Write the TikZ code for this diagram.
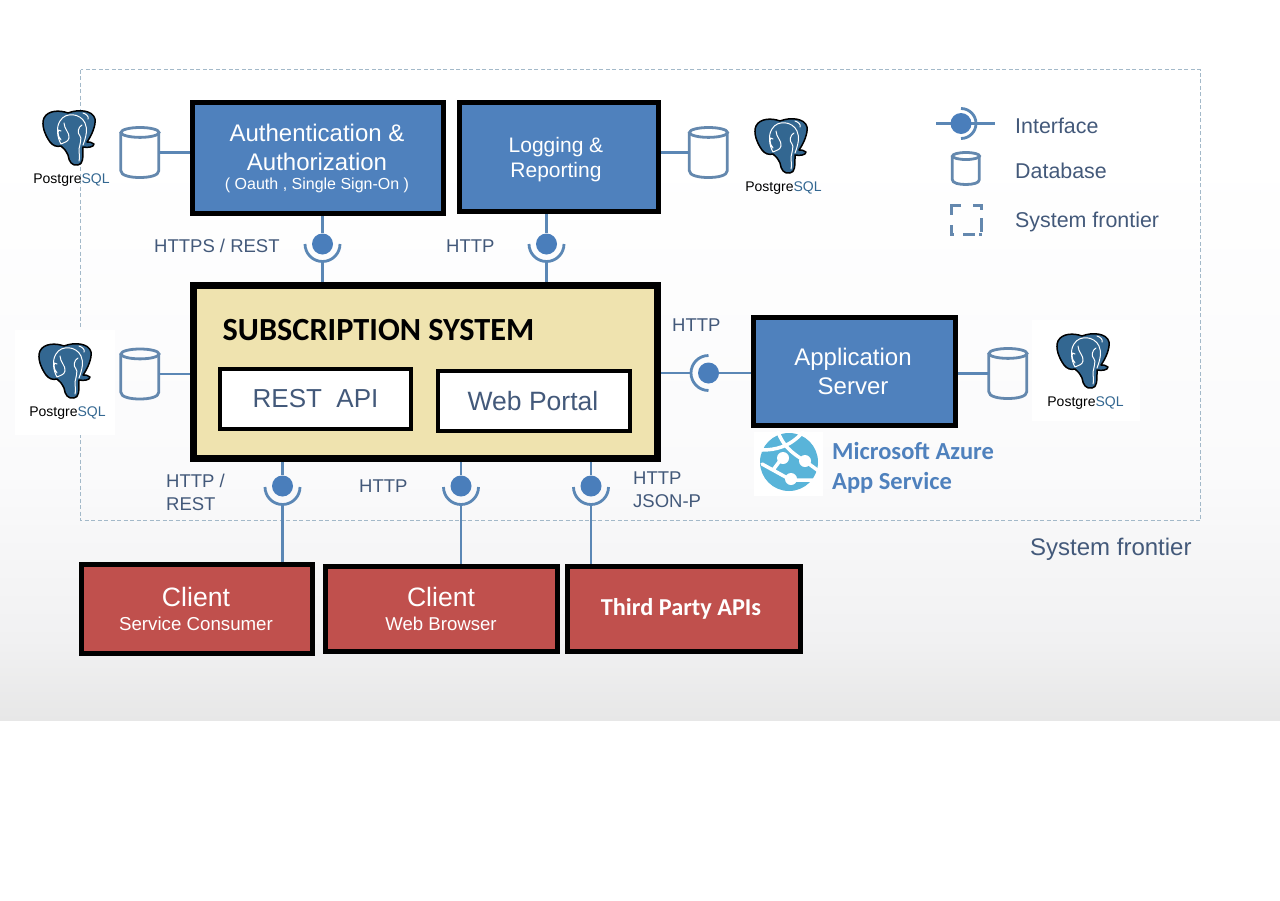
\documentclass[tikz,border=0pt]{standalone}
\usepackage{fontspec}
\setmainfont{Liberation Sans}
\newfontfamily\calibrifont{Carlito}
\usepackage{xcolor}

\definecolor{boxblue}{HTML}{4F81BD}
\definecolor{boxred}{HTML}{C0504D}
\definecolor{boxsand}{HTML}{EFE3AF}
\definecolor{linkblue}{HTML}{5B87B5}
\definecolor{dotblue}{HTML}{4A7EBB}
\definecolor{dbblue}{HTML}{6488AE}
\definecolor{textblue}{HTML}{43597A}
\definecolor{pgblue}{HTML}{336791}
\definecolor{azureblue}{HTML}{59B4D9}
\definecolor{frontierblue}{HTML}{A3B9C9}
\definecolor{bgone}{HTML}{FAFAFB}
\definecolor{bgtwo}{HTML}{F1F1F2}
\definecolor{bgthree}{HTML}{E7E7E7}

\tikzset{
  bigbox/.style={draw=black, line width=5pt, align=center, text=white, inner sep=0pt},
  bluebox/.style={bigbox, fill=boxblue},
  redbox/.style={bigbox, fill=boxred},
  innerbox/.style={draw=black, line width=4pt, fill=white, text=textblue, inner sep=0pt},
  link/.style={color=linkblue, line width=2.8pt},
  ifdot/.style={circle, fill=dotblue, minimum size=21pt, inner sep=0pt},
  dbase/.style={rectangle, minimum height=52pt, minimum width=40pt, inner sep=0pt},
  caption/.style={text=textblue, align=left, font=\fontsize{18.5}{23}\selectfont, inner sep=0pt},
  legendtext/.style={text=textblue, anchor=west, font=\fontsize{21.4}{24}\selectfont, inner sep=0pt},
  pglabel/.style={inner sep=0pt, font=\fontsize{14}{14}\selectfont},
}

% database drum: name, x, y, half width, half height
\newcommand{\dbdrum}[5]{
  \node[dbase, minimum width=2*#4 pt, minimum height=2*#5 pt] (#1) at (#2,#3) {};
  \draw[color=dbblue, line width=2.8pt] (#1.center) ++(0,-#5+0.26*#4)
    ellipse[x radius=#4 pt, y radius=0.26*#4 pt];
  \draw[color=dbblue, line width=2.8pt, line join=round]
    (#1.west) ++(0,-#5+0.26*#4) -- ++(0,2*#5-0.26*#4-0.36*#4)
    .. controls +(0,0.26*#4) and +(-0.5*#4,0) .. ++(#4,0.36*#4)
    .. controls +(0.5*#4,0) and +(0,0.26*#4) .. ++(#4,-0.36*#4)
    -- ++(0,-2*#5+0.26*#4+0.36*#4);
}

% elephant logo, top left corner at (#2,#3)
\newcommand{\pgelephant}[3]{
  \begin{scope}[shift={(#2,#3)}]
    \filldraw[fill=pgblue, draw=black, line width=1.5pt, line join=round]
      (26,2) .. controls (18,-1) and (6,-1) .. (2,7)
      .. controls (-1,14) and (3,24) .. (8,31)
      .. controls (11,35) and (15,36) .. (19,35)
      .. controls (22,37) and (24,40) .. (26,44)
      .. controls (27,51) and (30,55) .. (36,54)
      .. controls (41,53) and (41,48) .. (41,36)
      .. controls (46,37) and (52,36) .. (52,33)
      .. controls (50,31) and (47,31) .. (45,31)
      .. controls (50,24) and (54,14) .. (53,8)
      .. controls (51,-1) and (36,-2) .. (26,2) -- cycle;
    \draw[color=white, line width=1pt, line cap=round]
      (19,33) .. controls (15,26) and (14,16) .. (18,10) .. controls (21,5) and (26,3) .. (32,4)
      (19,20) .. controls (15,16) and (15,25) .. (19,29)
      (19,33) .. controls (23,31) and (26,31) .. (27,27) .. controls (28,22) and (22,18) .. (22,12)
      (41,34) .. controls (44,26) and (46,18) .. (43,12) .. controls (41,7) and (35,4) .. (32,4)
      (40,14) .. controls (36,16) and (35,22) .. (38,25) .. controls (40,27) and (38,33) .. (37,38)
      .. controls (37,42) and (38,47) .. (37,50)
      (46,8) .. controls (47,5) and (44,3) .. (41,2);
    \node[pglabel] (#1) at (29.5,69.5) {Post{\color{black}gre}{\color{pgblue}SQL}};
  \end{scope}
}

\begin{document}
\begin{tikzpicture}[x=1pt, y=-1pt]
\useasboundingbox (0,0) rectangle (1280,900);

% page background
\fill[color=white] (0,0) rectangle (1280,900);
\shade[top color=white, bottom color=bgone] (0,150) rectangle (1280,480);
\shade[top color=bgone, bottom color=bgtwo] (0,480) rectangle (1280,640);
\shade[top color=bgtwo, bottom color=bgthree] (0,640) rectangle (1280,720);

% system frontier
\draw[color=frontierblue, line width=0.8pt, dash pattern=on 4pt off 2.5pt] (80.5,69.5) rectangle (1200.5,520.5);

% white patches behind two of the logos
\fill[color=white] (15,330) rectangle (115,435);
\fill[color=white] (1032,320) rectangle (1140,421);
\fill[color=white] (754,432) rectangle (823,496);

% boxes
\node[bluebox, minimum width=251pt, minimum height=111pt] (auth) at (318,158) {};
\node[bluebox, minimum width=199pt, minimum height=109pt] (logging) at (559,157) {};
\node[draw=black, line width=7pt, fill=boxsand, minimum width=464pt, minimum height=173pt, inner sep=0pt] (subscr) at (425.5,372) {};
\node[innerbox, minimum width=191pt, minimum height=60pt, font=\fontsize{26}{30}\selectfont] (restapi) at (315.5,399) {REST\ \ API};
\node[innerbox, minimum width=192pt, minimum height=60pt, font=\fontsize{26.5}{30}\selectfont] (webportal) at (534,401) {\hspace{-2pt}Web Portal};
\node[bluebox, minimum width=202pt, minimum height=108pt] (appserver) at (854.5,371.5) {};
\node[redbox, minimum width=231pt, minimum height=89pt] (clientsc) at (197,609) {};
\node[redbox, minimum width=232pt, minimum height=85pt] (clientwb) at (441.5,609) {};
\node[redbox, minimum width=233pt, minimum height=85pt] (thirdparty) at (684,609) {};

% box texts
\node[text=white, inner sep=0pt, font=\fontsize{24}{29}\selectfont, align=center] (authtxt) at (317,147) {Authentication \&\\Authorization};
\node[text=white, inner sep=0pt, font=\fontsize{16}{20}\selectfont] (authsub) at (317,185) {( Oauth , Single Sign-On )};
\node[text=white, inner sep=0pt, font=\fontsize{21}{25}\selectfont, align=center] (logtxt) at (556,160) {Logging \&\\Reporting};
\node[text=white, inner sep=0pt, font=\fontsize{24}{29}\selectfont, align=center] (apptxt) at (853,371) {Application\\Server};
\node[text=black, inner sep=0pt, font=\calibrifont\bfseries\fontsize{32.3}{36}\selectfont] (subtxt) at (378.5,330) {SUBSCRIPTION SYSTEM};
\node[text=white, inner sep=0pt, font=\fontsize{26.6}{30}\selectfont] (cl1) at (196,597) {Client};
\node[text=white, inner sep=0pt, font=\fontsize{18.7}{22}\selectfont] (cl1sub) at (196,624) {Service Consumer};
\node[text=white, inner sep=0pt, font=\fontsize{26.6}{30}\selectfont] (cl2) at (441,597) {Client};
\node[text=white, inner sep=0pt, font=\fontsize{18.6}{22}\selectfont] (cl2sub) at (441,624) {Web Browser};
\node[text=white, inner sep=0pt, font=\calibrifont\bfseries\fontsize{24.3}{28}\selectfont] (thirdtxt) at (681,609) {Third Party APIs};

% interfaces
\coordinate (tipauth) at (322.5,261.5);
\coordinate (tiplog) at (546.5,261.5);
\coordinate (tipapp) at (691,373);
\coordinate (tipcl1) at (282.5,504.5);
\coordinate (tipcl2) at (461,504.5);
\coordinate (tipthird) at (591,504.5);

\foreach \tipname in {tipauth,tiplog,tipcl1,tipcl2,tipthird}
  \draw[link] (\tipname) ++(-17.5,-17.5) arc[start angle=180, end angle=360, radius=17.5pt];
\draw[link] (tipapp) ++(17.5,-17.5) arc[start angle=90, end angle=270, radius=17.5pt];

\node[ifdot] (ifauth) at (322.5,244) {};
\node[ifdot] (iflog) at (546.5,244) {};
\node[ifdot] (ifapp) at (708.5,373) {};
\node[ifdot] (ifcl1) at (282.5,486) {};
\node[ifdot] (ifcl2) at (461,486) {};
\node[ifdot] (ifthird) at (591,486) {};

\draw[link] (auth.south -| ifauth) -- (ifauth);
\draw[link] (tipauth) -- (subscr.north -| tipauth);
\draw[link] (logging.south -| iflog) -- (iflog);
\draw[link] (tiplog) -- (subscr.north -| tiplog);
\draw[link] (subscr.south -| ifcl1) -- (ifcl1);
\draw[link] (tipcl1) -- (clientsc.north -| tipcl1);
\draw[link] (subscr.south -| ifcl2) -- (ifcl2);
\draw[link] (tipcl2) -- (clientwb.north -| tipcl2);
\draw[link] (subscr.south -| ifthird) -- (ifthird);
\draw[link] (tipthird) -- (thirdparty.north -| tipthird);
\draw[link] (subscr.east |- tipapp) -- (tipapp);
\draw[link] (ifapp) -- (appserver.west |- ifapp);

% databases
\dbdrum{dbauth}{140}{152.5}{19}{25}
\dbdrum{dblog}{708.5}{152.5}{19}{25}
\dbdrum{dbsub}{140}{374}{19}{25}
\dbdrum{dbapp}{1008}{373.5}{19}{25}
\draw[link] (dbauth.east) -- (dbauth.east -| auth.west);
\draw[link] (dblog.west) -- (dblog.west -| logging.east);
\draw[link] (dbsub.east) -- (dbsub.east -| subscr.west);
\draw[link] (dbapp.west) -- (dbapp.west -| appserver.east);

% logos
\pgelephant{pgauth}{42}{111}
\pgelephant{pglog}{754}{119}
\pgelephant{pgsub}{38}{344}
\pgelephant{pgapp}{1056}{334}

% azure icon
\fill[color=azureblue] (789,462) circle (29pt);
\draw[color=white, line width=3.5pt, line cap=round]
  (762,450) .. controls (775,450) and (790,447) .. (803,432)
  (778,432) .. controls (783,445) and (790,452) .. (805,461) -- (820,472)
  (782,458) -- (773,470)
  (762,464) -- (791,480) -- (815,480);
\fill[color=white] (783,458) circle (6pt);
\fill[color=white] (805,461) circle (6pt);
\fill[color=white] (791,479) circle (6pt);
\node[text=boxblue, align=left, inner sep=0pt, anchor=west, font=\calibrifont\bfseries\fontsize{24.5}{29.5}\selectfont] (azuretxt) at (832,468) {Microsoft Azure\\App Service};

% protocol labels
\node[caption, anchor=west] (lbauth) at (154,246) {HTTPS / REST};
\node[caption, anchor=west] (lblog) at (446,246) {HTTP};
\node[caption, anchor=west] (lbapp) at (672,325) {HTTP};
\node[caption, anchor=west] (lbcl1) at (166,492) {HTTP /\\REST};
\node[caption, anchor=west] (lbcl2) at (359,486) {HTTP};
\node[caption, anchor=west] (lbthird) at (633,490) {HTTP\\JSON-P};

% legend
\coordinate (lgleft) at (936,123.5);
\coordinate (lgright) at (995,123.5);
\draw[link] (lgleft) -- (lgright);
\node[ifdot] (lgdot) at (961,123.5) {};
\draw[link] (961,108.5) arc[start angle=90, end angle=-90, radius=15pt];
\dbdrum{lgdb}{966}{168.5}{13.5}{16}
\draw[color=dbblue, line width=2.8pt]
  (961,205.5) -- (951.5,205.5) -- (951.5,215)
  (973,205.5) -- (981.5,205.5) -- (981.5,210)
  (981.5,218) -- (981.5,232)
  (951.5,225) -- (951.5,234.5) -- (954,234.5)
  (963,234.5) -- (975,234.5)
  (979,234.5) -- (981.5,234.5);
\node[legendtext] (lgif) at (1015,126) {Interface};
\node[legendtext] (lgdbtxt) at (1015,171) {Database};
\node[legendtext] (lgfr) at (1015,222) {System frontier};
\node[text=textblue, inner sep=0pt, anchor=west, font=\fontsize{24}{28}\selectfont] (frontiertxt) at (1030,549) {System frontier};

\end{tikzpicture}
\end{document}
